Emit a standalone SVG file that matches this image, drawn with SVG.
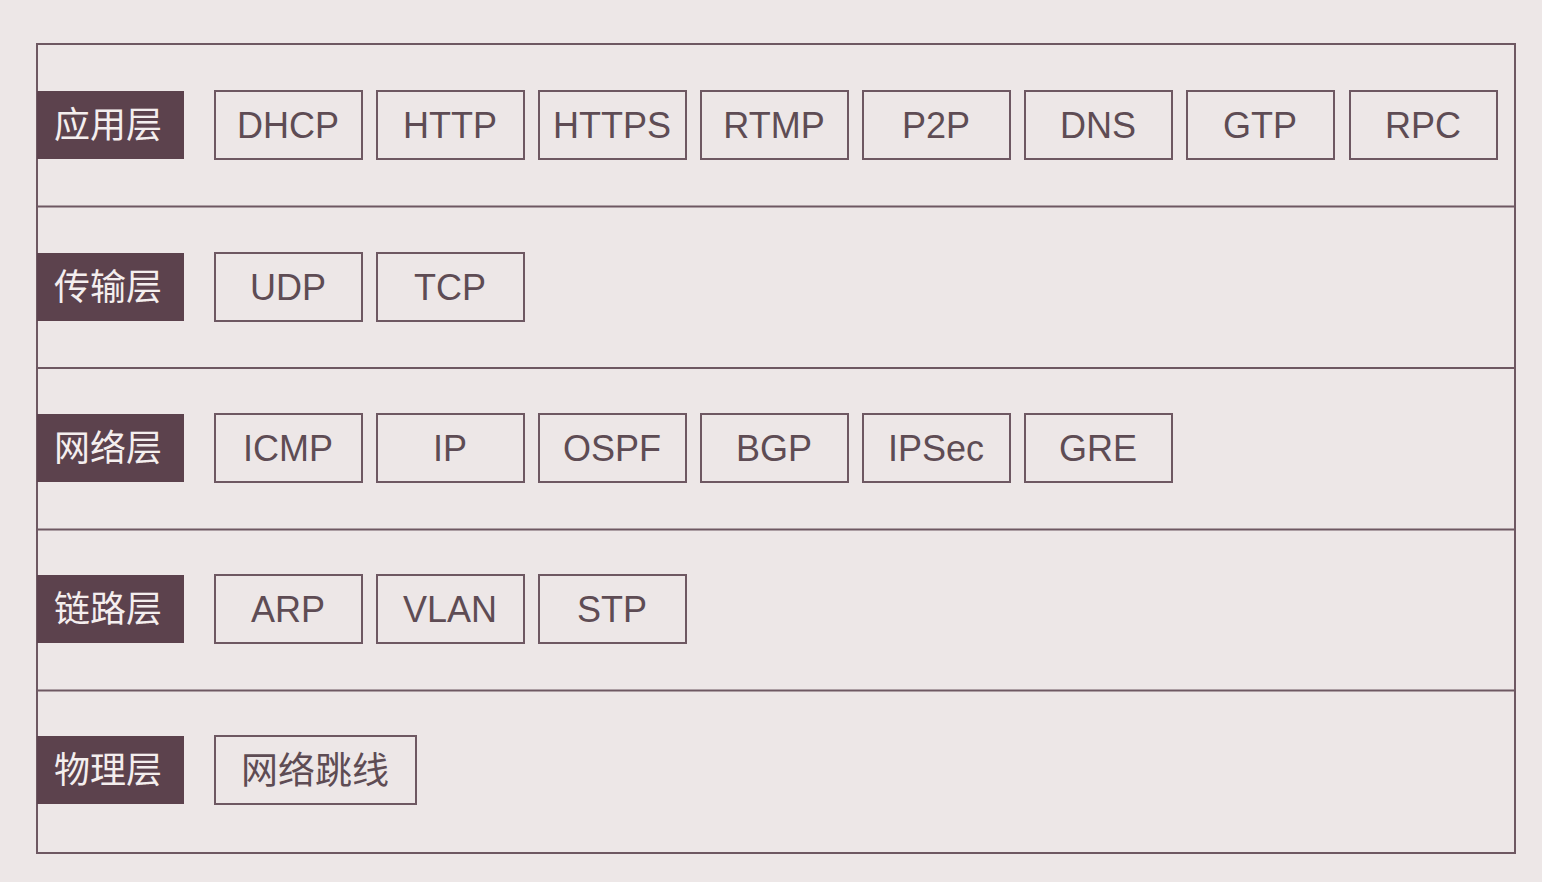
<svg xmlns="http://www.w3.org/2000/svg" width="1542" height="882" viewBox="0 0 1542 882">
<defs>
<style>
.bg{fill:#ede7e7}
.frame{fill:none;stroke:#6e5862;stroke-width:2}
.div{stroke:#6e5862;stroke-width:2}
.lab{fill:#5c424d}
.labt{fill:#f4eeee;font-family:"Noto Sans CJK SC","Noto Sans CJK TC",sans-serif;font-size:36px;text-anchor:middle}
.p{fill:none;stroke:#6e5862;stroke-width:2}
.pt{fill:#5e4c54;font-family:"Liberation Sans",Arial,sans-serif;font-size:36px;text-anchor:middle}
.ptc{fill:#5e4c54;font-family:"Noto Sans CJK SC","Noto Sans CJK TC",sans-serif;font-size:37px;text-anchor:middle}
</style>
</defs>
<rect class="bg" x="0" y="0" width="1542" height="882"/>
<rect class="frame" x="37" y="44" width="1478" height="809"/>
<g id="connectors">
<line class="div" x1="37" y1="206.5" x2="1515" y2="206.5"/>
<line class="div" x1="37" y1="368" x2="1515" y2="368"/>
<line class="div" x1="37" y1="529.5" x2="1515" y2="529.5"/>
<line class="div" x1="37" y1="690.5" x2="1515" y2="690.5"/>
</g>
<g id="layer-app">
<rect class="lab" x="37" y="91" width="147" height="68"/>
<text class="labt" x="108" y="138">应用层</text>
</g>
<g id="layer-transport">
<rect class="lab" x="37" y="253" width="147" height="68"/>
<text class="labt" x="108" y="300">传输层</text>
</g>
<g id="layer-network">
<rect class="lab" x="37" y="414" width="147" height="68"/>
<text class="labt" x="108" y="461">网络层</text>
</g>
<g id="layer-link">
<rect class="lab" x="37" y="575" width="147" height="68"/>
<text class="labt" x="108" y="622">链路层</text>
</g>
<g id="layer-physical">
<rect class="lab" x="37" y="736" width="147" height="68"/>
<text class="labt" x="108" y="783">物理层</text>
</g>
<g id="n-dhcp"><rect class="p" x="215" y="91" width="147" height="68"/><text class="pt" x="288" y="138">DHCP</text></g>
<g id="n-http"><rect class="p" x="377" y="91" width="147" height="68"/><text class="pt" x="450" y="138">HTTP</text></g>
<g id="n-https"><rect class="p" x="539" y="91" width="147" height="68"/><text class="pt" x="612" y="138">HTTPS</text></g>
<g id="n-rtmp"><rect class="p" x="701" y="91" width="147" height="68"/><text class="pt" x="774" y="138">RTMP</text></g>
<g id="n-p2p"><rect class="p" x="863" y="91" width="147" height="68"/><text class="pt" x="936" y="138">P2P</text></g>
<g id="n-dns"><rect class="p" x="1025" y="91" width="147" height="68"/><text class="pt" x="1098" y="138">DNS</text></g>
<g id="n-gtp"><rect class="p" x="1187" y="91" width="147" height="68"/><text class="pt" x="1260" y="138">GTP</text></g>
<g id="n-rpc"><rect class="p" x="1350" y="91" width="147" height="68"/><text class="pt" x="1423" y="138">RPC</text></g>
<g id="n-udp"><rect class="p" x="215" y="253" width="147" height="68"/><text class="pt" x="288" y="300">UDP</text></g>
<g id="n-tcp"><rect class="p" x="377" y="253" width="147" height="68"/><text class="pt" x="450" y="300">TCP</text></g>
<g id="n-icmp"><rect class="p" x="215" y="414" width="147" height="68"/><text class="pt" x="288" y="461">ICMP</text></g>
<g id="n-ip"><rect class="p" x="377" y="414" width="147" height="68"/><text class="pt" x="450" y="461">IP</text></g>
<g id="n-ospf"><rect class="p" x="539" y="414" width="147" height="68"/><text class="pt" x="612" y="461">OSPF</text></g>
<g id="n-bgp"><rect class="p" x="701" y="414" width="147" height="68"/><text class="pt" x="774" y="461">BGP</text></g>
<g id="n-ipsec"><rect class="p" x="863" y="414" width="147" height="68"/><text class="pt" x="936" y="461">IPSec</text></g>
<g id="n-gre"><rect class="p" x="1025" y="414" width="147" height="68"/><text class="pt" x="1098" y="461">GRE</text></g>
<g id="n-arp"><rect class="p" x="215" y="575" width="147" height="68"/><text class="pt" x="288" y="622">ARP</text></g>
<g id="n-vlan"><rect class="p" x="377" y="575" width="147" height="68"/><text class="pt" x="450" y="622">VLAN</text></g>
<g id="n-stp"><rect class="p" x="539" y="575" width="147" height="68"/><text class="pt" x="612" y="622">STP</text></g>
<g id="n-cable"><rect class="p" x="215" y="736" width="201" height="68"/><text class="ptc" x="315" y="784">网络跳线</text></g>
</svg>
